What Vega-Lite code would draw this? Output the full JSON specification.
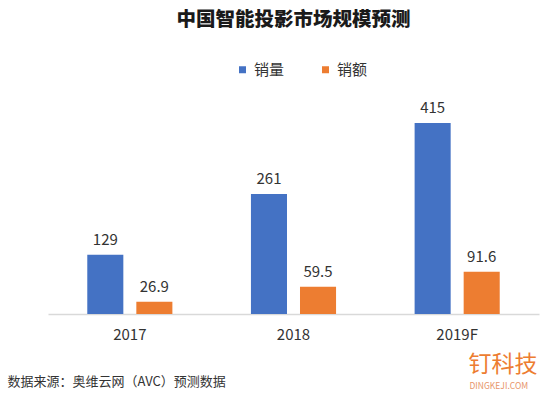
{
  "$schema": "https://vega.github.io/schema/vega-lite/v6.json",
  "width": 491,
  "height": 207,
  "autosize": "none",
  "padding": {"left": 48, "top": 107, "right": 11, "bottom": 82},
  "background": "white",
  "config": {
    "font": "Noto Sans CJK SC",
    "view": {"stroke": null}
  },
  "title": {
    "text": "中国智能投影市场规模预测",
    "fontSize": 19.5,
    "fontWeight": 900,
    "color": "#1a1a1a",
    "anchor": "middle",
    "offset": 32
  },
  "data": {
    "values": [
      {"year": "2017", "series": "销量", "value": 129, "label": "129"},
      {"year": "2017", "series": "销额", "value": 26.9, "label": "26.9"},
      {"year": "2018", "series": "销量", "value": 261, "label": "261"},
      {"year": "2018", "series": "销额", "value": 59.5, "label": "59.5"},
      {"year": "2019F", "series": "销量", "value": 415, "label": "415"},
      {"year": "2019F", "series": "销额", "value": 91.6, "label": "91.6"}
    ]
  },
  "encoding": {
    "xOffset": {
      "field": "series",
      "type": "nominal",
      "scale": {"paddingInner": 0.265, "paddingOuter": 0}
    }
  },
  "layer": [
    {
      "mark": {"type": "bar"},
      "encoding": {
        "x": {
          "field": "year",
          "type": "nominal",
          "sort": null,
          "scale": {"paddingInner": 0.48, "paddingOuter": 0.24},
          "axis": {
            "title": "数据来源：奥维云网（AVC）预测数据",
            "titleAnchor": "start",
            "titleAlign": "left",
            "titleX": -41,
            "titleY": 71,
            "titleBaseline": "alphabetic",
            "titleFontSize": 13,
            "titleFontWeight": "normal",
            "titleColor": "#333333",
            "labelAngle": 0,
            "labelFontSize": 15,
            "labelColor": "#333333",
            "labelPadding": 13,
            "ticks": false,
            "domainColor": "#d9d9d9",
            "domainWidth": 1.5
          }
        },
        "y": {
          "field": "value",
          "type": "quantitative",
          "scale": {"domain": [0, 450]},
          "axis": {
            "title": "DINGKEJI.COM",
            "titleAngle": 0,
            "titleX": 421,
            "titleY": 281,
            "titleAlign": "left",
            "titleBaseline": "alphabetic",
            "titleFontSize": 8.5,
            "titleFontWeight": "normal",
            "titleColor": "#e8956a",
            "labels": false,
            "ticks": false,
            "domain": false,
            "grid": false
          }
        },
        "color": {
          "field": "series",
          "type": "nominal",
          "scale": {"domain": ["销量", "销额"], "range": ["#4472C4", "#ED7D31"]},
          "legend": {
            "title": null,
            "orient": "none",
            "direction": "horizontal",
            "legendX": 187,
            "legendY": -45,
            "symbolType": "square",
            "symbolSize": 49,
            "labelFontSize": 15,
            "labelColor": "#333333",
            "labelOffset": 4,
            "columnPadding": 33
          }
        }
      }
    },
    {
      "mark": {"type": "text", "dy": -10, "baseline": "alphabetic", "fontSize": 15, "color": "#333333"},
      "encoding": {
        "x": {
          "field": "year",
          "type": "nominal",
          "sort": null,
          "scale": {"paddingInner": 0.48, "paddingOuter": 0.24},
          "axis": {
            "orient": "top",
            "title": "钉科技",
            "titleX": 420,
            "titleY": 264,
            "titleAlign": "left",
            "titleBaseline": "alphabetic",
            "titleFontSize": 23,
            "titleFontWeight": "normal",
            "titleColor": "#ED7D31",
            "labels": false,
            "ticks": false,
            "domain": false
          }
        },
        "y": {"field": "value", "type": "quantitative"},
        "text": {"field": "label", "type": "nominal"}
      }
    }
  ],
  "resolve": {"axis": {"x": "independent"}}
}
